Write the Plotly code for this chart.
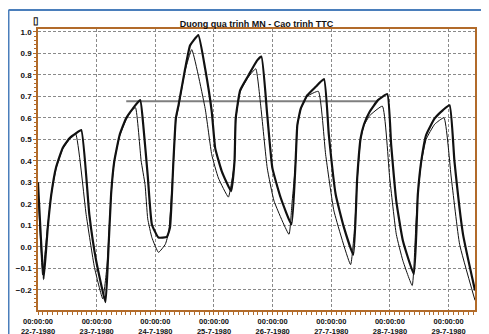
import pandas as pd
import plotly.graph_objects as go

# ---- data (hours from 22-7-1980 00:00, water level) ----
base_time = "1980-07-22 00:00"

thick_hours = [0, 2.3, 4.0, 5.4, 7.4, 10.1, 12.9, 15.6, 17.7, 21.0, 23.8, 27.6, 28.6, 29.9, 31.2, 33.4,
               36.0, 38.8, 41.8, 43.2, 44.9, 46.6, 49.3, 52.7, 54.0, 55.4, 56.4, 57.5, 60.2, 62.2, 63.6,
               65.6, 68.4, 71.1, 72.5, 75.2, 79.0, 80.4, 80.9, 82.7, 86.1, 89.6, 91.4, 93.8, 95.9, 99.3,
               103.7, 105.4, 106.1, 107.5, 110.2, 113.6, 117.0, 119.0, 121.8, 125.2, 129.0, 130.6, 132.0,
               133.4, 135.7, 139.1, 142.9, 144.5, 146.6, 149.3, 153.8, 155.4, 156.8, 158.8, 162.3, 165.7,
               168.4, 170.4, 173.9, 178.8]
thick_values = [0.30, -0.15, 0.09, 0.24, 0.37, 0.46, 0.505, 0.528, 0.543, 0.15, -0.065, -0.257, -0.065,
                0.243, 0.397, 0.52, 0.597, 0.643, 0.682, 0.55, 0.33, 0.104, 0.043, 0.046, 0.089, 0.397,
                0.597, 0.659, 0.828, 0.936, 0.959, 0.985, 0.828, 0.628, 0.459, 0.351, 0.259, 0.397, 0.597,
                0.728, 0.797, 0.866, 0.885, 0.612, 0.366, 0.228, 0.104, 0.397, 0.566, 0.643, 0.705, 0.744,
                0.78, 0.52, 0.243, 0.089, -0.037, 0.32, 0.505, 0.57, 0.628, 0.682, 0.71, 0.474, 0.212,
                0.028, -0.127, 0.243, 0.397, 0.52, 0.597, 0.636, 0.658, 0.397, 0.058, -0.203]

thin_hours = [0, 1.9, 3.8, 5.4, 7.4, 10.1, 12.9, 15.4, 19.7, 23.1, 26.5, 28.3, 29.9, 31.2, 33.4, 36.0,
              38.4, 39.9, 42.2, 43.8, 44.9, 46.6, 49.3, 52.1, 53.5, 55.4, 56.4, 57.5, 60.2, 62.9, 68.4,
              71.1, 73.8, 77.9, 79.2, 80.4, 80.9, 82.7, 86.1, 89.1, 91.1, 93.8, 96.6, 102.7, 103.9, 105.4,
              106.1, 107.5, 110.2, 114.7, 117.7, 121.1, 127.9, 129.6, 130.6, 132.0, 133.4, 135.7, 140.9,
              143.9, 146.6, 149.3, 153.1, 154.6, 155.4, 156.8, 158.8, 162.3, 166.1, 169.1, 172.5, 178.8]
thin_values = [0.27, -0.13, 0.08, 0.24, 0.365, 0.455, 0.50, 0.525, 0.15, -0.096, -0.242, -0.08, 0.243,
               0.397, 0.515, 0.59, 0.635, 0.647, 0.40, 0.289, 0.13, 0.043, -0.026, 0.012, 0.07, 0.39, 0.59,
               0.65, 0.82, 0.917, 0.643, 0.428, 0.32, 0.231, 0.30, 0.39, 0.59, 0.72, 0.79, 0.828, 0.659,
               0.366, 0.212, 0.058, 0.20, 0.39, 0.56, 0.64, 0.70, 0.723, 0.428, 0.166, -0.083, 0.10, 0.31,
               0.50, 0.565, 0.61, 0.654, 0.32, 0.058, -0.065, -0.18, 0.10, 0.24, 0.39, 0.50, 0.57, 0.60,
               0.32, 0.012, -0.249]

ttc_hours = [36.1, 139.1]
ttc_values = [0.677, 0.677]

day_labels = ["22-7-1980", "23-7-1980", "24-7-1980", "25-7-1980",
              "26-7-1980", "27-7-1980", "28-7-1980", "29-7-1980"]
y_ticks = [-0.2, -0.1, 0.0, 0.1, 0.2, 0.3, 0.4, 0.5, 0.6, 0.7, 0.8, 0.9, 1.0]

t0 = pd.Timestamp(base_time)
def to_time(hours):
    return [t0 + pd.Timedelta(hours=h) for h in hours]

day_vals = [t0 + pd.Timedelta(days=i) for i in range(len(day_labels))]
day_text = ["00:00:00<br>" + d for d in day_labels]

brown = "#b26b2a"
grid = "#8a8a8a"

fig = go.Figure()
fig.add_trace(go.Scatter(x=to_time(ttc_hours), y=ttc_values, mode="lines",
                         line=dict(color="#7f7f7f", width=2), showlegend=False))
fig.add_trace(go.Scatter(x=to_time(thin_hours), y=thin_values, mode="lines",
                         line=dict(color="#111111", width=1, shape="spline", smoothing=0.4),
                         showlegend=False))
fig.add_trace(go.Scatter(x=to_time(thick_hours), y=thick_values, mode="lines",
                         line=dict(color="#111111", width=2.2, shape="spline", smoothing=0.4),
                         showlegend=False))

# the page body has an 8px margin, so the figure is sized to fit inside the window
fig.update_layout(
    template="none",
    width=481, height=326,
    margin=dict(l=30, r=14, t=21, b=24, autoexpand=False),
    paper_bgcolor="white", plot_bgcolor="white",
    font=dict(family="Liberation Sans, Arial, sans-serif", color="#111"),
    title=dict(text="Duong qua trinh MN - Cao trinh TTC", x=0.5, xref="paper", xanchor="center",
               y=1, yref="paper", yanchor="bottom", pad=dict(b=2),
               font=dict(size=9, weight="bold", color="#111")),
    xaxis=dict(
        type="date", automargin=False,
        range=[t0, t0 + pd.Timedelta(hours=178.8)],
        tickvals=day_vals, ticktext=day_text,
        tickfont=dict(size=7.5, weight="bold", color="#111"),
        ticks="outside", ticklen=3, tickcolor=brown,
        showline=True, linecolor=brown, linewidth=1.5, mirror=True,
        showgrid=True, gridcolor=grid, griddash="3px,2px", gridwidth=1,
        minor=dict(dtick=2 * 3600 * 1000, ticks="outside", ticklen=3, tickcolor=brown, showgrid=False),
        zeroline=False,
    ),
    yaxis=dict(
        automargin=False,
        range=[-0.294, 1.013],
        tickvals=y_ticks, tickformat=".1f",
        tickfont=dict(size=8, weight="bold", color="#111"),
        ticks="outside", ticklen=3, tickcolor=brown,
        showline=True, linecolor=brown, linewidth=1.5, mirror=True,
        showgrid=True, gridcolor=grid, griddash="3px,2px", gridwidth=1,
        minor=dict(dtick=0.02, ticks="outside", ticklen=2, tickcolor=brown, showgrid=False),
        zeroline=False,
    ),
    shapes=[
        dict(type="line", xref="paper", yref="paper", x0=-0.0675, x1=1.1, y0=1.0676, y1=1.0676,
             line=dict(color="#4a7ebb", width=2)),
        dict(type="line", xref="paper", yref="paper", x0=-0.0675, x1=-0.0675, y0=-0.2, y1=1.0676,
             line=dict(color="#4a7ebb", width=2)),
    ],
    annotations=[
        dict(text="▯", xref="paper", yref="paper", x=-0.005, y=1.032, xanchor="center", yanchor="middle",
             showarrow=False, font=dict(size=10, weight="bold", color="#111")),
    ],
)

fig.write_html("out.html")
